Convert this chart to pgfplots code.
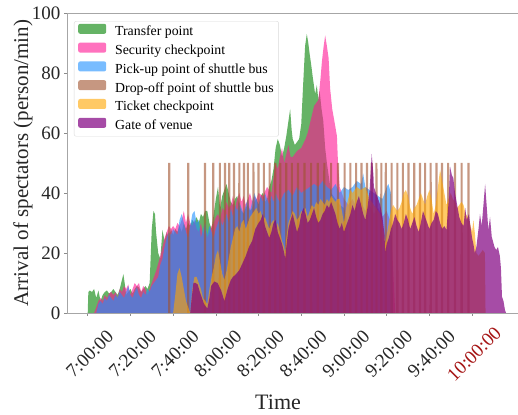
\documentclass[border=0pt]{standalone}
\usepackage{pgfplots}
\pgfplotsset{compat=1.18}
\usepackage{fontspec}
\setmainfont{Liberation Serif}
\definecolor{cgreen}{RGB}{0,128,0}
\definecolor{cpink}{RGB}{255,20,147}
\definecolor{cblue}{RGB}{30,144,255}
\definecolor{cbrown}{RGB}{160,82,45}
\definecolor{corange}{RGB}{255,165,0}
\definecolor{cpurple}{RGB}{128,0,128}
\definecolor{darkred}{RGB}{165,20,20}
\begin{document}
\begin{tikzpicture}
\useasboundingbox (0,0) rectangle (518pt,414pt);
\begin{axis}[
  at={(67pt,101pt)}, anchor=south west,
  scale only axis, width=451pt, height=300pt,
  xmin=-9.7, xmax=201.5, ymin=0, ymax=100,
  axis x line*=box, axis y line*=left,
  axis line style={draw=black!35, line width=0.8pt},
  xtick pos=bottom, ytick pos=left,
  tick align=outside, major tick length=3pt,
  tick style={draw=black!45, line width=0.6pt},
  xtick={0,20,...,180},
  xticklabels={7:00:00,7:20:00,7:40:00,8:00:00,8:20:00,8:40:00,9:00:00,9:20:00,9:40:00,\textcolor{darkred}{10:00:00}},
  ytick={0,20,...,100},
  /pgf/number format/assume math mode=true,
  tick label style={font=\fontsize{19}{19}\selectfont, text=black!85},
  xticklabel style={anchor=center, xshift=2pt, yshift=-38pt, rotate=45},
  xlabel={Time},
  xlabel style={at={(axis description cs:0.468,0)}, anchor=base, yshift=-96pt, font=\fontsize{22}{22}\selectfont, text=black!85},
  ylabel={Arrival of spectators (person/min)},
  every axis y label/.style={at={(axis description cs:-0.0976,0.5)}, rotate=90, anchor=center, font=\fontsize{21}{21}\selectfont, text=black!85},
  legend image code/.code={\fill[#1,draw=none] (0pt,-1.5pt) rectangle (28pt,8.5pt);},
  legend cell align=left,
  legend style={at={(axis description cs:0.0155,0.973)}, anchor=north west,
    draw=black!15, rounded corners=2pt, fill=white, fill opacity=0.8, text opacity=1,
    font=\fontsize{13.8}{13.8}\selectfont, inner xsep=4pt, inner ysep=2.5pt,
    nodes={inner sep=1pt, text height=10pt, text depth=3pt},
    row sep=2.8pt, column sep=8pt},
]
% Transfer point
\addplot[fill=cgreen, fill opacity=0.6, draw=none] coordinates {
(0,0)(0.3,7)(1,7.5)(2,7)(3,8)(4,5)(5,7.5)(6,4)(7,6)(8,7)(9,7.5)(10,6.5)(11,7)(12,8)(13,7)(14,6)(15,8)(16,11)(16.7,13)(17.5,9)(18,6)(19,7)(20,8)(21,6.5)(22,8)(23,9)(24,8.5)(25,7)(26,8)(27,9)(28,8)(29,10)(30,28)(30.8,34)(31.5,33)(32,27)(33,20)(34,18)(35,27.7)(36,24)(37,27)(38,25)(39,28)(40,26)(41,28)(42,27)(43,29)(44,27)(45,30)(46,28)(47,30)(48,29)(49,31)(50,30)(51,32)(52,30)(53,33)(54,32)(55,34)(56,34)(57,30)(58,28)(59,33)(60,38)(61,42)(62,35)(63,39)(64,41)(65,43)(66,40)(67,37)(68,36)(69,38)(70,39)(71,36)(72,34)(73,33)(74,35)(75,36)(76,34)(77,35)(78,37)(79,38)(80,36)(81,39)(82,40)(83,37)(84,38)(85,42)(86,44)(87,48)(88,55)(89,58)(90,56)(91,52)(92,55)(93,59)(94,64)(94.8,68)(95.5,61)(96,58)(97,56)(98,57)(99,58)(100,63)(100.8,75)(101.8,89)(102.6,93)(103.3,90)(104,86)(104.6,83)(105.5,78)(106.5,73)(107.3,76)(108,71)(108.6,74)(109.5,68)(110.3,64)(111.2,55)(112,50)(113,45)(114,40)(116,38)(118,36)(120,35)(122,30)(123,0)
} \closedcycle;
\addlegendentry{Transfer point}
% Security checkpoint
\addplot[fill=cpink, fill opacity=0.6, draw=none] coordinates {
(3,0)(4,2)(5,4)(6,5)(7,4)(8,6)(9,5)(10,6.5)(11,7)(12,6)(13,7)(14,5)(15,8)(16,7)(17,9)(18,8)(19,9.5)(20,6)(21,8)(22,10)(23,9)(24,10)(25,7)(26,9)(27,8)(28,6)(29,8)(30,10)(31,12)(32,14)(33,16.5)(34,19)(35,22)(36,25)(37,27)(38,29)(39,28)(40,29)(41,28)(42,30)(43,29)(44,31)(45,34)(46,30)(47,33)(48,30)(49,29)(50,31)(51,28)(52,27)(53,30)(54,26)(55,28)(56,25)(57,27)(58,29)(59,30)(60,32)(61,33)(62,31)(63,35)(64,34)(65,37)(66,35)(67,36)(68,39)(69,35)(70,38)(71,40)(72,37)(73,39)(74,36)(75,38)(76,40)(77,37)(78,39)(79,38)(80,40)(82,39)(84,42)(86,40)(87,45)(88,50)(89,48)(90,52)(91,55)(92,50)(93,53)(94,56)(95,52)(96,52)(98,54)(100,55)(102,58)(103,60)(104,63)(105,66)(106,69)(107,70)(108,71)(109,78)(109.7,84)(110.5,89)(111.2,92.5)(112,89)(112.8,85)(113.5,75)(114.5,68)(115.5,64)(116.7,59)(117.2,50)(118,42)(119,40)(120,38)(122,36)(124,38)(126,35)(128,37)(130,34)(132,36)(134,33)(136,35)(138,32)(140,34)(142,30)(144,0)
} \closedcycle;
\addlegendentry{Security checkpoint}
% Pick-up point of shuttle bus
\addplot[fill=cblue, fill opacity=0.6, draw=none] coordinates {
(4,0)(5,3)(6,4)(7,3)(8,5)(9,4)(10,6)(11,5)(12,4)(13,6)(14,5)(15,7)(16,6)(17,5)(18,7)(19,9)(20,6)(21,5)(22,7)(23,8.5)(24,6)(25,5)(26,7)(27,6)(28,8)(29,7)(30,9)(31,10)(32,11)(33,12)(34,16)(35,18)(36,22)(37,25)(38,27)(39,26)(40,28)(41,27)(42,26)(43,31)(44,33)(45,30)(46,27)(47,25)(48,29)(49,33)(50,34)(51,30)(52,31)(53,25)(54,28)(55,30)(56,26)(57,29)(58,27)(59,25)(60,28)(61,30)(62,32)(63,29)(64,31)(65,33)(66,30)(67,35)(68,32)(69,36)(70,34)(71,37)(72,35)(73,33)(74,36)(75,38)(76,34)(77,37)(78,40)(79,38)(80,36)(81,39)(82,37)(83,40)(84,38)(85,36)(86,39)(87,37)(88,40)(89,38)(90,37)(92,40)(94,41)(96,39)(98,42)(100,40)(102,41)(104,42)(106,43)(108,42)(110,44)(112,42)(114,41)(116,43)(118,40)(120,42)(122,41)(124,42)(126,44)(128,43)(129,46.5)(130,42)(132,41)(134,40)(136,39)(138,38)(140,42)(140.8,43)(142,40)(143,0)
} \closedcycle;
\addlegendentry{Pick-up point of shuttle bus}
% Drop-off point of shuttle bus
\addplot[fill=cbrown, fill opacity=0.6, draw=none] coordinates {
(37.65,0)(37.7,50)(38.7,50)(38.75,0)
(46.55,0)(46.6,50)(47.6,50)(47.65,0)
(54.35,0)(54.4,50)(55.4,50)(55.45,0)
(58.25,0)(58.3,50)(59.3,50)(59.35,0)
(61.35,0)(61.4,50)(62.4,50)(62.45,0)
(63.75,0)(63.8,50)(64.8,50)(64.85,0)
(65.75,0)(65.8,50)(66.8,50)(66.85,0)
(67.95,0)(68,50)(69,50)(69.05,0)
(70.45,0)(70.5,50)(71.5,50)(71.55,0)
(72.65,0)(72.7,50)(73.7,50)(73.75,0)
(74.45,0)(74.5,50)(75.5,50)(75.55,0)
(77.05,0)(77.1,50)(78.1,50)(78.15,0)
(79.45,0)(79.5,50)(80.5,50)(80.55,0)
(81.95,0)(82,50)(83,50)(83.05,0)
(84.65,0)(84.7,50)(85.7,50)(85.75,0)
(87.25,0)(87.3,50)(88.3,50)(88.35,0)
(89.65,0)(89.7,50)(90.7,50)(90.75,0)
(92.45,0)(92.5,50)(93.5,50)(93.55,0)
(95.05,0)(95.1,50)(96.1,50)(96.15,0)
(97.95,0)(98,50)(99,50)(99.05,0)
(100.95,0)(101,50)(102,50)(102.05,0)
(104.05,0)(104.1,50)(105.1,50)(105.15,0)
(107.15,0)(107.2,50)(108.2,50)(108.25,0)
(110.25,0)(110.3,50)(111.3,50)(111.35,0)
(113.45,0)(113.5,50)(114.5,50)(114.55,0)
(116.65,0)(116.7,50)(117.7,50)(117.75,0)
(119.75,0)(119.8,50)(120.8,50)(120.85,0)
(122.45,0)(122.5,50)(123.5,50)(123.55,0)
(125.15,0)(125.2,50)(126.2,50)(126.25,0)
(127.65,0)(127.7,50)(128.7,50)(128.75,0)
(130.25,0)(130.3,50)(131.3,50)(131.35,0)
(132.45,0)(132.5,50)(133.5,50)(133.55,0)
(134.65,0)(134.7,50)(135.7,50)(135.75,0)
(136.95,0)(137,50)(138,50)(138.05,0)
(139.05,0)(139.1,50)(140.1,50)(140.15,0)
(141.75,0)(141.8,50)(142.8,50)(142.85,0)
(144.45,0)(144.5,50)(145.5,50)(145.55,0)
(147.05,0)(147.1,50)(148.1,50)(148.15,0)
(149.65,0)(149.7,50)(150.7,50)(150.75,0)
(152.35,0)(152.4,50)(153.4,50)(153.45,0)
(155.05,0)(155.1,50)(156.1,50)(156.15,0)
(157.45,0)(157.5,50)(158.5,50)(158.55,0)
(160.05,0)(160.1,50)(161.1,50)(161.15,0)
(162.75,0)(162.8,50)(163.8,50)(163.85,0)
(165.35,0)(165.4,50)(166.4,50)(166.45,0)
(168.25,0)(168.3,50)(169.3,50)(169.35,0)
(171.45,0)(171.5,50)(172.5,50)(172.55,0)
(174.55,0)(174.6,50)(175.6,50)(175.65,0)
(177.75,0)(177.8,50)(178.8,50)(178.85,0)
} \closedcycle;
\addlegendentry{Drop-off point of shuttle bus}
% Ticket checkpoint
\addplot[fill=corange, fill opacity=0.6, draw=none] coordinates {
(40,0)(41,6)(42,13)(43,15)(44,12)(45,8)(46,4)(47,2)(48,0)(49,8)(50,12)(51,12)(52,10)(53,8)(54,5)(55,4)(56,3)(57,8)(58,12)(59,15)(60,19)(61,21)(62,17)(63,13)(64,11)(65,14)(66,18)(67,22)(68,25)(69,28)(70,29)(71,27)(72,30)(73,31)(74,28)(75,30)(76,32)(77,33)(78,34)(79,35)(80,33)(81,34)(82,31)(83,32)(84,30)(85,28)(86,30)(87,31)(88,28)(89,30)(90,27)(91,24)(92,22)(92.5,20)(93,25)(94,30)(95,32)(96,34)(97,33)(98,31)(99,32)(100,34)(101,33)(102,35)(103,32)(104,34)(105,36)(106,35)(107,37)(108,36)(109,38)(110,37)(111,36)(112,38)(113,37)(114,39)(115,38)(116,37)(117,38)(118,38)(119,34)(120,30)(121,35)(122,38)(123,41)(124,40)(126,42)(128,41)(130,42)(131,40)(132,38)(134,36)(135,35)(136,34)(137,33)(138,30)(139,25)(139.5,23)(140,26)(141,30)(142,34)(143,36)(144,35)(145,34)(146,35)(147,37)(148,40)(149,41)(150,39)(151,35)(152,33)(153,35)(154,36)(155,38)(156,40)(157,38)(158,36)(159,39)(160,41)(161,38)(162,33)(163,36)(164,42)(165,47.7)(166,44)(167,40)(168,36)(169,38)(170,40)(171,38)(172,37)(173,35)(174,36)(175,37)(176,36)(177,33)(178,32)(179,30)(180,27)(180.6,31)(181.3,26.5)(182,20)(183,19)(184,20)(185,21)(186,20)(186.3,0)
} \closedcycle;
\addlegendentry{Ticket checkpoint}
% Gate of venue
\addplot[fill=cpurple, fill opacity=0.7, draw=none] coordinates {
(48,0)(48.7,5)(49.5,10)(50.5,10)(51.5,9.5)(52.5,7)(53.5,5)(54.5,3)(56,1.5)(57,5)(57.8,9)(59.3,10.5)(60.8,10)(62.5,7.5)(64,4)(65.5,8)(67,11)(68,12)(69.5,13)(71,14.3)(72.5,16.6)(74,19)(75.5,22)(77,24)(78.5,28)(80,30)(81,31)(82,33)(83,29)(84,27)(85,25)(86,27)(87,30)(88,31)(89,27)(90,25)(91,23)(92,20)(92.5,18)(93,22)(94,28)(95,31)(96,33)(97,30)(98,27)(99,29)(100,33)(101,35)(102,33)(103,30)(104,31)(105,33)(106,35)(107,32)(108,30)(109,31)(110,33)(111,34)(112,36)(113,35)(114,37)(115,35)(116,33)(117,30)(118,28)(119,30)(120,27)(121,29)(122,31)(123,33)(124,36)(125,34)(126,37)(127,39)(128,36)(129,33)(130,31)(131,35)(132,41)(133,53)(133.8,46)(134,42)(135,40)(136,38)(137,36)(138,32)(139,26)(139.3,20)(140,23)(141,25)(142,28)(143,30)(144,33)(145,31)(146,30)(147,28)(148,30)(149,33)(150,31)(151,28)(152,30)(153,32)(154,29)(155,27)(156,30)(157,34)(158,32)(159,30)(160,28)(161,30)(162,31)(163,34)(164,33)(165,30)(166,28)(167,29)(168,27.7)(169,37)(169.7,48.8)(170.5,46)(171.2,45)(172,40)(173,36)(174,32)(175,30)(176,29)(176.8,35)(177.5,31)(178.5,33)(179,30)(180,25)(180.6,23)(181.3,20)(182,22)(183,28)(183.7,33)(184.5,29)(185.2,35)(186.1,43)(186.8,36)(187.6,27.7)(188.4,32)(189.2,25.4)(190.5,22)(191.3,21)(192.1,22)(193,19)(193.5,15)(194,5.5)(194.7,4)(195.4,1)(195.9,0)
} \closedcycle;
\addlegendentry{Gate of venue}
\end{axis}
\end{tikzpicture}
\end{document}
